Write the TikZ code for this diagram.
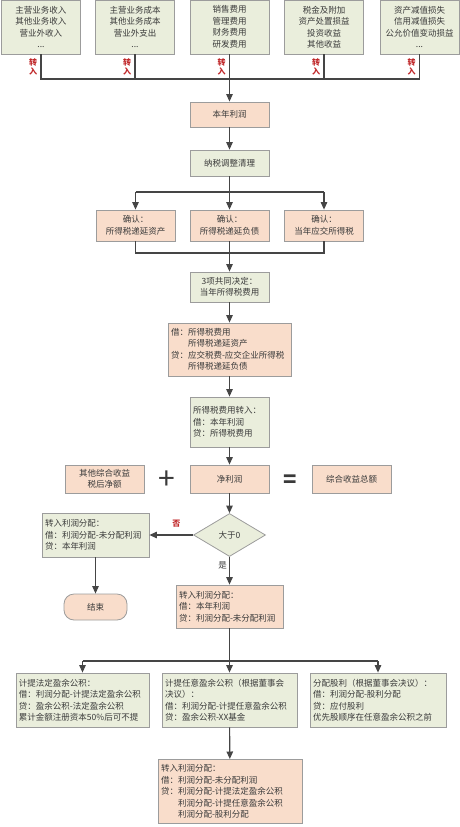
\documentclass[tikz,border=0pt]{standalone}
\usepackage{fontspec}
\setmainfont{Noto Sans CJK SC}
\usetikzlibrary{arrows.meta,shapes.geometric}
\definecolor{peach}{HTML}{F9DDCB}
\definecolor{sage}{HTML}{EAEEDC}
\definecolor{edge}{HTML}{9C9C9C}
\definecolor{ink}{HTML}{3A3A3A}
\definecolor{wirec}{HTML}{454545}
\definecolor{markc}{HTML}{C0282A}
\tikzset{
  box/.style={draw=edge,line width=0.8pt,text=ink,inner sep=2pt,
    font=\fontsize{8.5}{11.5}\selectfont,align=center,
    minimum width=79pt,minimum height=26pt},
  obox/.style={box,fill=peach},
  gbox/.style={box,fill=sage},
  lbox/.style={align=left,inner xsep=3pt,text width=#1},
  wire/.style={draw=wirec,line width=1.1pt},
  arr/.style={wire,-{Triangle[width=6.5pt,length=7.5pt]}},
  zr/.style={text=markc,font=\bfseries\fontsize{8}{8.5}\selectfont,align=center,inner sep=0pt}
}
\def\zr#1{\node[zr,xshift=-8pt] (zr#1) at (in#1.south |- zrow) {转\\入};}

\begin{document}
\begin{tikzpicture}[x=1pt,y=-1pt]
\useasboundingbox (0,0) rectangle (460,827);
\clip (0,0) rectangle (460,827);
\node[gbox,minimum height=54pt] (in1) at (41,27) {主营业务收入\\其他业务收入\\营业外收入\\...};
\node[gbox,minimum height=54pt] (in2) at (135,27) {主营业务成本\\其他业务成本\\营业外支出\\...};
\node[gbox,minimum height=54pt] (in3) at (229.5,27) {销售费用\\管理费用\\财务费用\\研发费用};
\node[gbox,minimum height=54pt] (in4) at (324,27) {税金及附加\\资产处置损益\\投资收益\\其他收益};
\node[gbox,minimum height=54pt] (in5) at (419.5,27) {资产减值损失\\信用减值损失\\公允价值变动损益\\...};
\coordinate (zrow) at (0,67);
\coordinate (bus0) at (229.5,79);
\foreach \n in {1,...,5} \zr\n
\draw[wire] (in1.south) -- (in1.south |- bus0) -- (in5.south |- bus0) -- (in5.south);
\draw[wire] (in2.south) -- (in2.south |- bus0);
\draw[wire] (in4.south) -- (in4.south |- bus0);
\node[obox,minimum height=25pt] (lr) at (229.5,114.5) {本年利润};
\draw[arr] (in3.south) -- (lr.north);
\node[gbox] (adj) at (229.5,163) {纳税调整清理};
\draw[arr] (lr) -- (adj);
\node[obox,minimum height=31pt] (dta) at (135.5,225.5) {确认：\\所得税递延资产};
\node[obox,minimum height=31pt] (dtl) at (229.5,225.5) {确认：\\所得税递延负债};
\node[obox,minimum height=31pt] (cit) at (324,225.5) {确认：\\当年应交所得税};
\coordinate (bus1) at (229.5,192);
\draw[wire] (adj.south) -- (bus1);
\draw[wire] (dta.north |- bus1) -- (cit.north |- bus1);
\foreach \n in {dta,dtl,cit} \draw[arr] (\n.north |- bus1) -- (\n.north);
\coordinate (bus2) at (229.5,253);
\draw[wire] (dta.south) -- (dta.south |- bus2) -- (cit.south |- bus2) -- (cit.south);
\node[gbox,minimum height=30pt] (det) at (229.5,287) {3项共同决定：\\当年所得税费用};
\draw[arr] (dtl.south) -- (det.north);
\node[obox,lbox=117pt,minimum height=53pt] (je) at (229.5,349.5) {借：所得税费用\\\hphantom{借：}所得税递延资产\\贷：应交税费-应交企业所得税\\\hphantom{贷：}所得税递延负债};
\draw[arr] (det) -- (je);
\node[gbox,lbox=73pt,minimum height=50pt] (ter) at (229.5,422) {所得税费用转入：\\借：本年利润\\贷：所得税费用};
\draw[arr] (je) -- (ter);
\node[obox,minimum height=28pt] (oci) at (104.5,479) {其他综合收益\\税后净额};
\node[obox,minimum height=28pt] (np) at (229.5,479) {净利润};
\node[obox,minimum height=28pt] (ci) at (351.5,479) {综合收益总额};
\node[text=ink,font=\fontsize{30}{30}\selectfont,inner sep=0pt] (plus) at (167,480) {+};
\node[text=ink,font=\bfseries\fontsize{22}{22}\selectfont,inner sep=0pt] (eq) at (290,481) {=};
\draw[arr] (ter) -- (np);
\node[gbox,diamond,minimum width=72pt,minimum height=43pt,inner sep=0pt] (gt) at (229.5,535) {大于0};
\draw[arr] (np) -- (gt);
\node[gbox,lbox=101pt,minimum height=44pt] (loss) at (95.5,535) {转入利润分配：\\借：利润分配-未分配利润\\贷：本年利润};
\draw[arr] (gt.west) -- node[pos=0.38,yshift=11pt,text=markc,font=\bfseries\fontsize{8}{8}\selectfont] {否} (loss.east);
\node[obox,rounded corners=10pt,minimum width=63pt,minimum height=26pt] (fin) at (95.5,607) {结束};
\draw[arr] (loss) -- (fin);
\node[obox,lbox=101pt,minimum height=43pt] (gain) at (229.5,606.5) {转入利润分配：\\借：本年利润\\贷：利润分配-未分配利润};
\draw[arr] (gt.south) -- node[pos=0.3,left,inner sep=2pt,text=ink,font=\fontsize{8.5}{8.5}\selectfont] {是} (gain.north);
\coordinate (bus3) at (229.5,661);
\node[gbox,lbox=127pt,minimum height=54pt] (sur1) at (82.5,700) {计提法定盈余公积：\\借：利润分配-计提法定盈余公积\\贷：盈余公积-法定盈余公积\\累计金额注册资本50\%后可不提};
\node[gbox,lbox=129pt,minimum height=54pt] (sur2) at (229.5,700) {计提任意盈余公积（根据董事会\\决议）：\\借：利润分配-计提任意盈余公积\\贷：盈余公积-XX基金};
\node[gbox,lbox=130pt,minimum height=54pt] (div) at (378,700) {分配股利（根据董事会决议）：\\借：利润分配-股利分配\\贷：应付股利\\优先股顺序在任意盈余公积之前};
\draw[wire] (sur1.north |- bus3) -- (div.north |- bus3);
\draw[arr] (gain) -- (sur2);
\draw[arr] (sur1.north |- bus3) -- (sur1.north);
\draw[arr] (div.north |- bus3) -- (div.north);
\node[obox,lbox=138pt,anchor=north,inner ysep=5pt] (close) at (230,759) {转入利润分配：\\借：利润分配-未分配利润\\贷：利润分配-计提法定盈余公积\\\hphantom{贷：}利润分配-计提任意盈余公积\\\hphantom{贷：}利润分配-股利分配};
\draw[arr] (sur2) -- (close);
\end{tikzpicture}
\end{document}
